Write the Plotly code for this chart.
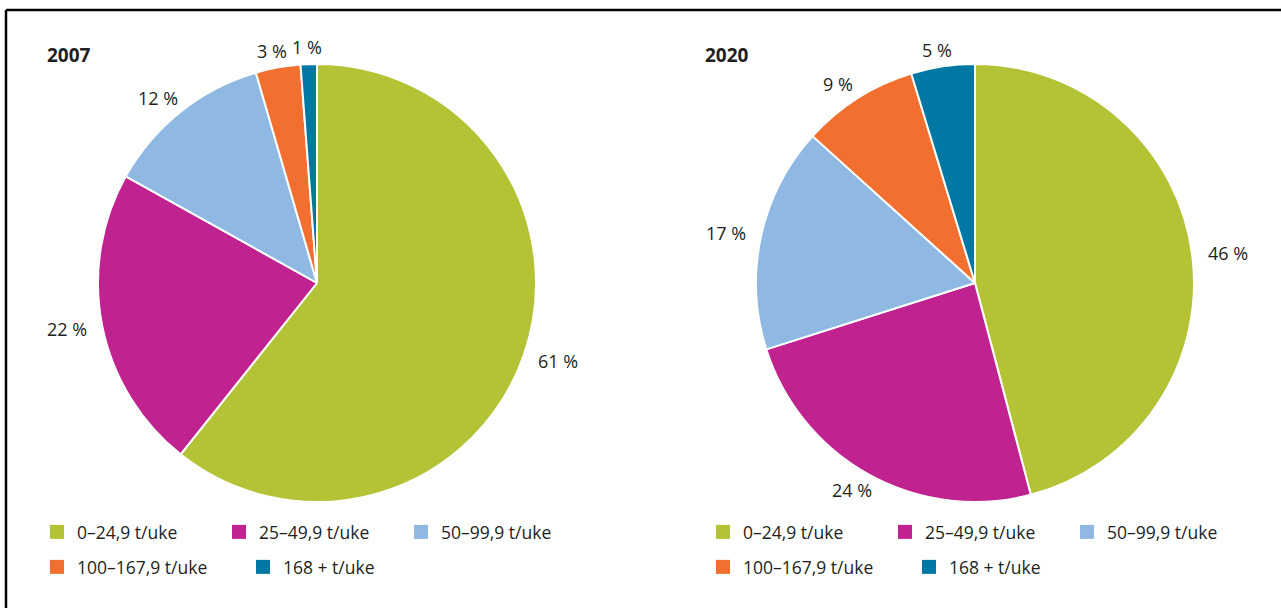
import math
import plotly.graph_objects as go

categories = ["0–24,9 t/uke", "25–49,9 t/uke", "50–99,9 t/uke", "100–167,9 t/uke", "168 + t/uke"]
colors = ["#b4c236", "#c0228f", "#8fb9e2", "#f26f2f", "#0078a3"]
# shares (%); labels show them rounded
values_2007 = [60.7, 22.4, 12.4, 3.3, 1.2]
values_2020 = [45.9, 24.2, 16.6, 8.6, 4.7]
years = ["2007", "2020"]

W, H = 1281, 608
FONT = "Open Sans"
TXT = "#231f20"

fig = go.Figure()

# pie geometry (pixels): centres and radius
centres = [317, 975]
cy, R = 283, 219
# label ring (ellipse around the pie) half-axes
LAB_A, LAB_B = R + 36, R + 17

label_annotations = []
for year, vals, cx in zip(years, [values_2007, values_2020], centres):
    texts = [f"{round(v)} %" for v in vals]
    fig.add_trace(go.Pie(
        labels=categories,
        values=vals,
        text=texts,
        textinfo="none",
        marker=dict(colors=colors, line=dict(color="white", width=2)),
        sort=False,
        direction="clockwise",
        rotation=0,
        showlegend=False,
        name=year,
        domain=dict(x=[(cx - R) / W, (cx + R) / W],
                    y=[1 - (cy + R) / H, 1 - (cy - R) / H]),
        hovertemplate="%{label}: %{text}<extra>" + year + "</extra>",
    ))
    # outside percentage labels placed along each slice's mid-angle
    total = sum(vals)
    cum = 0.0
    for v, t in zip(vals, texts):
        mid = (cum + v / 2) / total * 2 * math.pi
        cum += v
        dx, dy = math.sin(mid), -math.cos(mid)  # screen direction (y down)
        px, py = cx + dx * LAB_A, cy + dy * LAB_B
        label_annotations.append(dict(
            text=t, x=px / W, y=1 - py / H, xref="paper", yref="paper",
            xanchor="center", yanchor="middle", showarrow=False,
            font=dict(family=FONT, size=18, color=TXT)))

# legend entries (dummy marker traces), two rows under each pie
rows = [[0, 1, 2], [3, 4]]
legend_ids = [["legend", "legend2"], ["legend3", "legend4"]]
for p in range(2):
    for r, idxs in enumerate(rows):
        for i in idxs:
            fig.add_trace(go.Scatter(
                x=[None], y=[None], mode="markers",
                marker=dict(symbol="square", size=14, color=colors[i]),
                name=categories[i], legend=legend_ids[p][r],
                showlegend=True, hoverinfo="skip",
            ))

leg_common = dict(orientation="h", xanchor="left", yanchor="middle",
                  font=dict(family=FONT, size=17.5, color=TXT),
                  bgcolor="rgba(0,0,0,0)", borderwidth=0,
                  traceorder="normal", entrywidthmode="pixels")
leg_x = [37 / W, 703 / W]
row_y = [1 - 532 / H, 1 - 567 / H]
row_entry = [137, 161]

layout_leg = {}
for p in range(2):
    for r in range(2):
        layout_leg[legend_ids[p][r]] = dict(leg_common, x=leg_x[p], y=row_y[r],
                                            entrywidth=row_entry[r])

title_annotations = [
    dict(text=f"<b>{yr}</b>", x=tx / W, y=1 - 55 / H, xref="paper", yref="paper",
         xanchor="left", yanchor="middle", showarrow=False,
         font=dict(family=FONT, size=19, color=TXT))
    for yr, tx in zip(years, [45, 703])
]

fig.update_layout(
    width=W, height=H,
    margin=dict(l=0, r=0, t=0, b=0),
    paper_bgcolor="white", plot_bgcolor="white",
    font=dict(family=FONT, color=TXT),
    xaxis=dict(visible=False), yaxis=dict(visible=False),
    **layout_leg,
    shapes=[
        dict(type="line", xref="paper", yref="paper", x0=6 / W, x1=1, y0=1 - 10 / H, y1=1 - 10 / H,
             line=dict(color="black", width=2.5)),
        dict(type="line", xref="paper", yref="paper", x0=6 / W, x1=6 / W, y0=0, y1=1 - 10 / H,
             line=dict(color="black", width=2.5)),
    ],
    annotations=title_annotations + label_annotations,
)

fig.write_html("out.html")
